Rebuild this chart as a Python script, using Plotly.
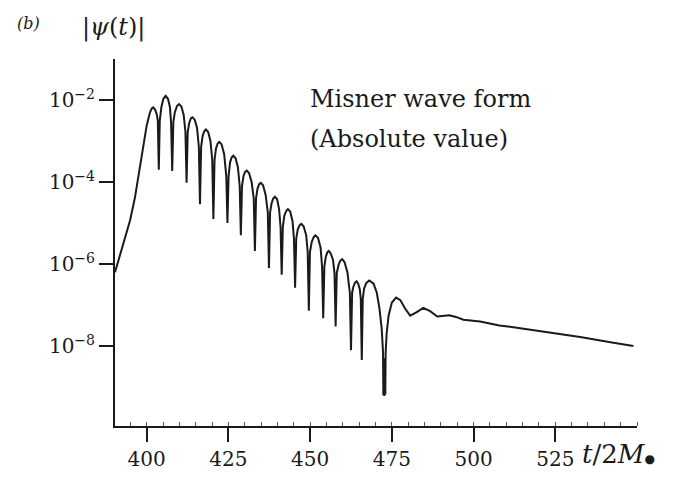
import numpy as np
import plotly.graph_objects as go

# |psi(t)| of the Misner wave form, stored as log10 values against t/2M

# initial rise up to the first maximum
rise_t = [390.3, 392.8, 394.9, 396.4, 397.4, 399.0, 400.0, 401.0, 401.6, 402.0,
          402.6, 403.1, 403.4]
rise_lg = [-6.20, -5.50, -4.94, -4.38, -3.90, -3.18, -2.62, -2.30, -2.20, -2.18,
           -2.24, -2.36, -2.50]

# ringing: rounded lobes separated by sharp zero-crossing spikes
ring_t = [
    403.7, 404.0,
    404.5, 405.1, 405.8, 406.5, 407.1, 407.45,
    407.8, 408.15,
    408.6, 409.3, 409.9, 410.6, 411.3, 411.85,
    412.2, 412.55,
    413.0, 413.5, 414.0, 414.7, 415.4, 415.95,
    416.3, 416.65,
    417.1, 417.6, 418.1, 418.8, 419.5, 420.05,
    420.4, 420.75,
    421.2, 421.7, 422.2, 422.9, 423.7, 424.35,
    424.7, 425.05,
    425.5, 426.0, 426.5, 427.2, 427.9, 428.45,
    428.8, 429.15,
    429.6, 430.1, 430.6, 431.3, 432.1, 432.75,
    433.1, 433.45,
    433.9, 434.4, 434.9, 435.6, 436.4, 437.05,
    437.4, 437.75,
    438.2, 438.7, 439.2, 439.9, 440.5, 440.95,
    441.3, 441.65,
    442.1, 442.7, 443.2, 443.9, 444.6, 445.05,
    445.4, 445.75,
    446.2, 446.8, 447.3, 448.0, 448.8, 449.25,
    449.6, 449.95,
    450.5, 451.1, 451.6, 452.4, 453.2, 453.65,
    454.0, 454.35,
    454.8, 455.3, 455.7, 456.3, 457.0, 457.45,
    457.8, 458.15,
    458.7, 459.2, 459.8, 460.5, 461.4, 462.15,
    462.5, 462.85,
    463.2, 463.7, 464.2, 464.7, 465.2, 465.5,
    465.8, 466.1,
    466.5, 467.2, 468.1, 469.4, 470.4, 471.2, 471.9, 472.3,
]
ring_lg = [
    -3.70, -2.50,
    -2.17, -1.97, -1.90, -1.97, -2.17, -2.54,
    -3.73, -2.54,
    -2.30, -2.14, -2.10, -2.16, -2.36, -2.78,
    -4.02, -2.78,
    -2.56, -2.45, -2.42, -2.48, -2.68, -3.14,
    -4.54, -3.14,
    -2.88, -2.76, -2.72, -2.78, -3.00, -3.46,
    -4.90, -3.46,
    -3.18, -3.06, -3.02, -3.08, -3.32, -3.86,
    -5.00, -3.86,
    -3.52, -3.40, -3.36, -3.42, -3.64, -4.10,
    -5.30, -4.10,
    -3.86, -3.75, -3.72, -3.78, -4.00, -4.40,
    -5.68, -4.40,
    -4.16, -4.05, -4.02, -4.08, -4.32, -4.74,
    -6.10, -4.74,
    -4.52, -4.40, -4.36, -4.42, -4.66, -5.10,
    -6.26, -5.10,
    -4.82, -4.70, -4.66, -4.72, -4.95, -5.38,
    -6.58, -5.38,
    -5.16, -5.05, -5.02, -5.08, -5.30, -5.70,
    -7.14, -5.70,
    -5.46, -5.34, -5.30, -5.36, -5.60, -6.06,
    -7.32, -6.06,
    -5.82, -5.71, -5.68, -5.74, -5.90, -6.22,
    -7.52, -6.22,
    -6.02, -5.92, -5.88, -5.95, -6.20, -6.70,
    -8.10, -6.70,
    -6.56, -6.46, -6.42, -6.48, -6.62, -6.85,
    -8.34, -6.85,
    -6.60, -6.46, -6.40, -6.48, -6.70, -7.08, -7.58, -8.15,
]

# deepest zero crossing near t/2M = 473 (rapid flips at the bottom)
dip_t = [472.4, 472.55, 472.7, 472.85, 473.0, 473.1, 473.4, 474.0, 475.0, 476.3]
dip_lg = [-9.20, -8.30, -9.22, -8.30, -9.18, -8.17, -7.70, -7.26, -6.94, -6.82]

# late-time tail
tail_t = [477.6, 479.0, 480.6, 482.5, 484.6, 486.7, 488.9, 490.8, 492.6, 494.6,
          496.9, 502.0, 507.9, 512.2, 522.4, 532.6, 542.8, 548.9]
tail_lg = [-6.88, -7.08, -7.26, -7.18, -7.07, -7.15, -7.28, -7.26, -7.25, -7.29,
           -7.36, -7.40, -7.50, -7.54, -7.66, -7.78, -7.92, -8.00]

x_ticks = [400, 425, 450, 475, 500, 525]
y_ticks = [1e-2, 1e-4, 1e-6, 1e-8]
y_tick_text = ["10<sup>−2</sup>", "10<sup>−4</sup>", "10<sup>−6</sup>", "10<sup>−8</sup>"]

t = rise_t + ring_t + dip_t + tail_t
psi = 10.0 ** np.array(rise_lg + ring_lg + dip_lg + tail_lg)

SERIF = "DejaVu Serif"
INK = "#1a1a1a"

fig = go.Figure()
fig.add_trace(go.Scatter(
    x=t, y=psi, mode="lines",
    line=dict(color=INK, width=2),
    hoverinfo="skip",
))

fig.update_layout(
    width=683, height=483,
    margin=dict(l=115, r=46, t=59, b=51),
    paper_bgcolor="white", plot_bgcolor="white",
    showlegend=False,
    font=dict(family=SERIF, color=INK, size=20),
)

fig.update_xaxes(
    range=[390.3, 550],
    tickvals=x_ticks,
    ticks="outside", ticklen=14, tickwidth=1.5, tickcolor=INK,
    showline=True, linewidth=2, linecolor=INK,
    showgrid=False, zeroline=False,
    tickfont=dict(family=SERIF, size=20, color=INK),
    minor=dict(dtick=5, tick0=400, ticks="inside", ticklen=4,
               tickwidth=1, tickcolor="#555", showgrid=False),
)
fig.update_yaxes(
    type="log",
    range=[-9.95, -1.0],
    tickvals=y_ticks, ticktext=y_tick_text,
    ticks="outside", ticklen=14, tickwidth=1.5, tickcolor=INK,
    showline=True, linewidth=2, linecolor=INK,
    showgrid=False, zeroline=False,
    tickfont=dict(family=SERIF, size=20, color=INK),
)

annotations = [
    dict(text="<i>(b)</i>", x=-0.165, y=1.097, size=16, xanchor="center"),
    dict(text="|<i>ψ</i>(<i>t</i>)|", x=-0.002, y=1.086, size=24, xanchor="center"),
    dict(text="Misner wave form", x=0.370, y=0.890, size=24, xanchor="left"),
    dict(text="(Absolute value)", x=0.370, y=0.783, size=24, xanchor="left"),
    dict(text="<i>t</i>/2<i>M</i><span style='font-size:12px'>●</span>",
         x=0.890, y=-0.075, size=26, xanchor="left"),
]
for a in annotations:
    fig.add_annotation(
        text=a["text"], xref="paper", yref="paper", x=a["x"], y=a["y"],
        xanchor=a["xanchor"], yanchor="middle", showarrow=False,
        font=dict(family=SERIF, size=a["size"], color=INK),
    )

fig.write_html("out.html")
